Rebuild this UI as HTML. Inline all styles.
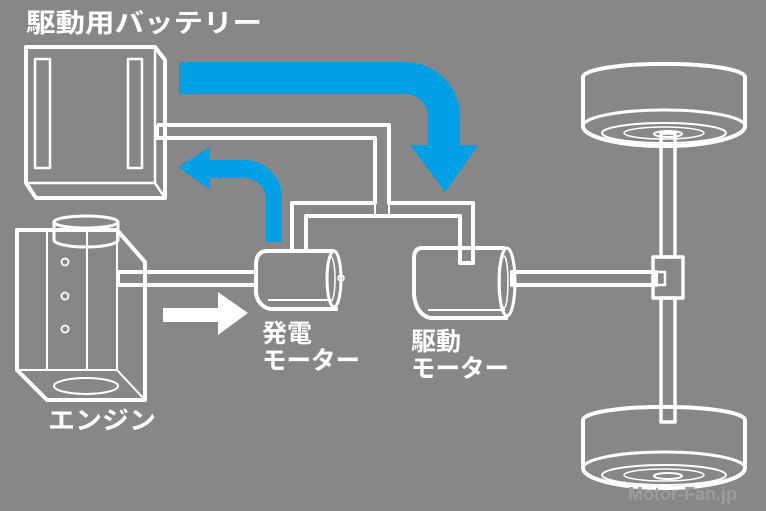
<!DOCTYPE html>
<html><head><meta charset="utf-8"><style>
html,body{margin:0;padding:0;background:#878787;}
svg{display:block}
text{font-family:"Liberation Sans","Noto Sans CJK JP",sans-serif;font-weight:bold;fill:#fff}
</style></head><body>
<svg width="766" height="511" viewBox="0 0 766 511" xmlns="http://www.w3.org/2000/svg">
<rect width="766" height="511" fill="#878787"/>
<g fill="none" stroke="#fff" stroke-linejoin="round">
<!-- battery -->
<path d="M26 47 H155 L165 60 V198 H36 L26 183 Z" stroke-width="4"/>
<path d="M26 183 H155 L165 198 M155 47 V183" stroke-width="2.5"/>
<rect x="35" y="59" width="15" height="109" stroke-width="2.5"/>
<rect x="128" y="59" width="14" height="109" stroke-width="2.5"/>
<!-- wires -->
<path d="M157 125 H389 V203 H473 V263 H460 V216 H306 V252" stroke-width="4"/>
<path d="M292 252 V203 H375 V138 H157 V125" stroke-width="4"/>
<path d="M375 203 V216 M389 203 V216" stroke-width="2"/>
<!-- engine -->
<path d="M17 230 H117 L145 262 V400 H47 L17 370 Z" stroke-width="4"/>
<path d="M17 370 H117 L145 400 M117 230 V370 M47 230 V370 M87 230 V370" stroke-width="2"/>
<path d="M54 222 V240 A32 7 0 0 0 118 240 V222" stroke-width="3"/>
<ellipse cx="86" cy="222" rx="32" ry="6" stroke-width="3"/>
<ellipse cx="86" cy="386" rx="32" ry="8" stroke-width="2"/>
<circle cx="65" cy="262" r="3.5" stroke-width="1.8"/>
<circle cx="65" cy="296" r="3.5" stroke-width="1.8"/>
<circle cx="65" cy="329" r="3.5" stroke-width="1.8"/>
<!-- engine shaft -->
<rect x="118" y="272" width="138" height="13" stroke-width="4"/>
<!-- gen motor -->
<path d="M334 251 H266 Q256 252 256 265 V293 Q258 306 270 309 H338" stroke-width="4"/>
<path d="M268 300 H333" stroke-width="2"/>
<ellipse cx="334" cy="279" rx="7" ry="28" stroke-width="3"/>
<ellipse cx="331" cy="279" rx="4" ry="22" stroke-width="1.5"/>
<circle cx="341" cy="278" r="3" stroke-width="1.5"/>
<!-- drive motor -->
<path d="M505 248 H421 Q414 249 414 258 V295 Q416 314 430 318 H508" stroke-width="4"/>
<path d="M428 310 H505" stroke-width="2"/>
<ellipse cx="507" cy="282" rx="8" ry="34" stroke-width="3"/>
<ellipse cx="504" cy="282" rx="4" ry="26" stroke-width="1.5"/>
<!-- drive shaft -->
<rect x="512" y="272" width="144" height="13" stroke-width="4"/>
<!-- axle -->
<rect x="661" y="133" width="14" height="124" stroke-width="3.5"/>
<rect x="661" y="298" width="14" height="124" stroke-width="3.5"/>
<rect x="653" y="257" width="30" height="41" stroke-width="3.5"/>
<rect x="655" y="272" width="10" height="13" stroke-width="2.5"/>
<!-- top wheel -->
<path d="M583 77 A80 13 0 0 1 745 77 V126 A81 20 0 0 1 583 126 Z" stroke-width="4"/>
<path d="M583 126 A81 16 0 0 1 745 126" stroke-width="3"/>
<ellipse cx="664" cy="133" rx="62" ry="10" stroke-width="2"/>
<ellipse cx="664" cy="133" rx="40" ry="6" stroke-width="1.5"/>
<ellipse cx="668" cy="134" rx="14" ry="3" stroke-width="2"/>
<!-- bottom wheel -->
<path d="M583 420 A80 13 0 0 1 745 420 V468 A81 20 0 0 1 583 468 Z" stroke-width="4"/>
<path d="M583 468 A81 16 0 0 1 745 468" stroke-width="3"/>
<ellipse cx="664" cy="475" rx="62" ry="10" stroke-width="2"/>
<ellipse cx="664" cy="475" rx="40" ry="6" stroke-width="1.5"/>
<ellipse cx="668" cy="476" rx="14" ry="3" stroke-width="2"/>
</g>
<!-- blue arrows -->
<g fill="#00a0e6">
<path d="M179 62 H405 A55 55 0 0 1 460 117 V145 H478 L445 192 L410 145 H428 V117 A23 23 0 0 0 405 94 H179 Z"/>
<path d="M266 242 V200 A22 22 0 0 0 244 178 H210 V190 L178 167 L210 147 V160 H244 A38 38 0 0 1 282 198 V242 Z"/>
</g>
<!-- white arrow -->
<path d="M163 308 H218 V292 L248 313 L218 335 V322 H163 Z" fill="#fff"/>
<!-- watermark -->
<text x="628" y="500" font-size="18" style="fill:#9c9c9c">Motor-Fan.jp</text>
<!-- labels -->
<text x="26" y="32" font-size="26" textLength="236" lengthAdjust="spacingAndGlyphs">駆動用バッテリー</text>
<text x="48" y="429" font-size="25" textLength="108" lengthAdjust="spacingAndGlyphs">エンジン</text>
<text x="262" y="342" font-size="25">発電</text>
<text x="262" y="369" font-size="25" textLength="98" lengthAdjust="spacingAndGlyphs">モーター</text>
<text x="411" y="350" font-size="25">駆動</text>
<text x="411" y="377" font-size="25" textLength="98" lengthAdjust="spacingAndGlyphs">モーター</text>
</svg>
</body></html>
